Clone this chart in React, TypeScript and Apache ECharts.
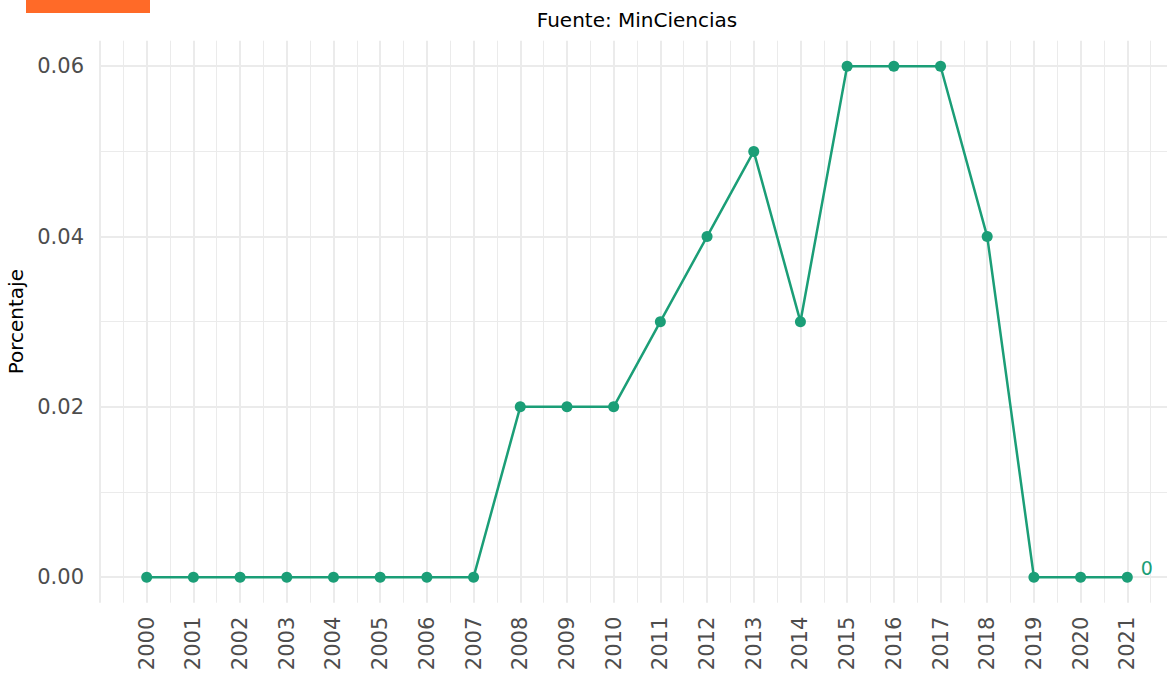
import React, { useEffect, useRef } from "react";
import * as echarts from "echarts";

const years = [2000, 2001, 2002, 2003, 2004, 2005, 2006, 2007, 2008, 2009, 2010, 2011, 2012, 2013, 2014, 2015, 2016, 2017, 2018, 2019, 2020, 2021];
const values = [0, 0, 0, 0, 0, 0, 0, 0, 0.02, 0.02, 0.02, 0.03, 0.04, 0.05, 0.03, 0.06, 0.06, 0.06, 0.04, 0, 0, 0];
const yMajorTicks = [0, 0.02, 0.04, 0.06];
const yMinorTicks = [0.01, 0.03, 0.05];
const subtitle = "Fuente: MinCiencias";
const yName = "Porcentaje";
const endLabel = "0";

const FONT = "DejaVu Sans";
const GREEN = "#1b9e77";
const GRID = "#ebebeb";

export default function App() {
  const ref = useRef<HTMLDivElement>(null);
  useEffect(() => {
    if (!ref.current) return;
    const chart = echarts.init(ref.current, null, { renderer: "svg" });
    const data = years.map((y, i) => {
      const item: any = { value: [y, values[i]] };
      if (i === years.length - 1) {
        item.label = {
          show: true,
          position: "right",
          distance: 8,
          offset: [0, -9],
          formatter: endLabel,
          color: GREEN,
          fontSize: 19,
          fontFamily: FONT,
        };
      }
      return item;
    });
    chart.setOption({
      animation: false,
      textStyle: { fontFamily: FONT },
      grid: { left: 100, width: 1074, top: 40.7, bottom: 70.3, containLabel: false, outerBoundsMode: "none" },
      graphic: [
        { type: "rect", shape: { x: 26, y: 0, width: 124, height: 13 }, style: { fill: "#ff6a28" } },
        {
          type: "text",
          x: 637,
          y: 20,
          style: { text: subtitle, fontSize: 20, fontFamily: FONT, fill: "#000", align: "center", verticalAlign: "middle" },
        },
      ],
      xAxis: {
        type: "value",
        min: 1999,
        max: 2022,
        interval: 1,
        axisLine: { show: false },
        axisTick: { show: false },
        minorTick: { show: false, splitNumber: 2 },
        splitLine: { show: true, lineStyle: { color: GRID, width: 2 } },
        minorSplitLine: { show: true, lineStyle: { color: GRID, width: 1 } },
        axisLabel: {
          rotate: 90,
          margin: 14,
          fontSize: 21,
          color: "#4d4d4d",
          fontFamily: FONT,
          formatter: (v: number) => (v < 2000 || v > 2021 ? "" : String(v)),
        },
      },
      yAxis: [
        {
          type: "value",
          min: -0.003,
          max: 0.063,
          name: yName,
          nameLocation: "middle",
          nameRotate: 90,
          nameGap: 68,
          nameTextStyle: { fontSize: 20, color: "#000", fontFamily: FONT },
          axisLine: { show: false },
          axisTick: { show: false, customValues: yMajorTicks },
          splitLine: { show: true, lineStyle: { color: GRID, width: 2 } },
          axisLabel: {
            customValues: yMajorTicks,
            margin: 16,
            fontSize: 21,
            color: "#4d4d4d",
            fontFamily: FONT,
            formatter: (v: number) => v.toFixed(2),
          },
        },
        {
          type: "value",
          min: -0.003,
          max: 0.063,
          position: "left",
          axisLine: { show: false },
          axisTick: { show: false, customValues: yMinorTicks },
          axisLabel: { show: false, customValues: yMinorTicks },
          splitLine: { show: true, lineStyle: { color: GRID, width: 1 } },
        },
      ],
      series: [
        {
          type: "line",
          yAxisIndex: 0,
          data,
          symbol: "circle",
          symbolSize: 11,
          lineStyle: { color: GREEN, width: 2.5 },
          itemStyle: { color: GREEN },
          z: 5,
        },
      ],
    });
    return () => chart.dispose();
  }, []);
  return <div ref={ref} style={{ position: "absolute", left: 0, top: 0, width: 1167, height: 673 }} />;
}
